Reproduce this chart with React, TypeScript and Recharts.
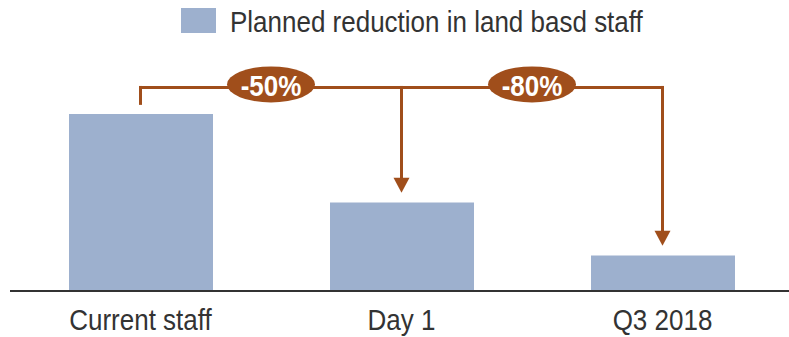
import React from "react";
import { BarChart, Bar, XAxis, YAxis, Legend, ReferenceLine, ReferenceDot } from "recharts";

const categories = ["Current staff", "Day 1", "Q3 2018"];
const staffLevels = [100, 50, 20];
const seriesName = "Planned reduction in land basd staff";

const BAR_COLOR = "#9DB0CE";
const ACCENT = "#A04E1B";
const TEXT = "#333333";
const FONT = "'Liberation Sans', Arial, sans-serif";
const STRETCH = 1.12; // slightly tall lettering

// bracket geometry in value units
const BRACKET_Y = 115;
const TICK_END = 106;
const ARROW_GAP = 5.5;

const data = categories.map((name, i) => ({ name, staff: staffLevels[i] }));

const pctChange = (from: number, to: number) =>
  `${Math.round(((to - from) / from) * 100)}%`;

const PillLabel = (text: string) => (props: any) => {
  const { viewBox } = props;
  const cx = viewBox.x + viewBox.width / 2;
  const cy = viewBox.y - 3;
  return (
    <g>
      <ellipse cx={cx} cy={cy} rx={44} ry={18} fill={ACCENT} />
      <g transform={`translate(${cx},${cy + 12}) scale(1,1.1)`}>
        <text x={0} y={0} textAnchor="middle" fill="#fff" fontFamily={FONT} fontWeight="bold" fontSize={26}>
          {text}
        </text>
      </g>
    </g>
  );
};

const CategoryTick = (props: any) => {
  const { x, y, payload } = props;
  return (
    <g transform={`translate(${x},${y + 18.5}) scale(1,${STRETCH})`}>
      <text x={0} y={0} textAnchor="middle" fill={TEXT} fontFamily={FONT} fontSize={26}>
        {payload.value}
      </text>
    </g>
  );
};

const ArrowHead = (props: any) => {
  const { cx, cy } = props;
  return <polygon points={`${cx - 8},${cy - 15} ${cx + 8},${cy - 15} ${cx},${cy}`} fill={ACCENT} />;
};

const LegendContent = () => (
  <svg width={500} height={40} style={{ display: "block" }}>
    <rect x={0} y={8} width={35} height={25} fill={BAR_COLOR} />
    <g transform={`translate(49,32) scale(1,${STRETCH})`}>
      <text x={0} y={0} fill={TEXT} fontFamily={FONT} fontSize={26}>
        {seriesName}
      </text>
    </g>
  </svg>
);

export default function App() {
  const base = staffLevels[0];
  return (
    <div style={{ position: "absolute", left: 0, top: 0, width: 789, height: 337, overflow: "hidden", background: "#fff" }}>
      <BarChart
        width={793}
        height={337}
        data={data}
        margin={{ top: 114, right: 0, left: 10, bottom: 0 }}
      >
        <YAxis hide domain={[0, 100]} />
        <XAxis
          dataKey="name"
          interval={0}
          height={46}
          axisLine={{ stroke: TEXT, strokeWidth: 2 }}
          tickLine={false}
          tickMargin={14}
          tick={<CategoryTick />}
        />
        <Legend
          layout="horizontal"
          verticalAlign="middle"
          align="center"
          wrapperStyle={{ left: 181, top: 0, width: 500 }}
          content={<LegendContent />}
        />
        <Bar dataKey="staff" name={seriesName} fill={BAR_COLOR} barSize={144} isAnimationActive={false} />

        {/* left end of the bracket */}
        <ReferenceLine
          ifOverflow="visible"
          segment={[{ x: categories[0], y: TICK_END }, { x: categories[0], y: BRACKET_Y }]}
          stroke={ACCENT}
          strokeWidth={3}
          strokeLinecap="square"
        />
        {/* horizontal runs with percentage pills */}
        {categories.slice(1).map((c, i) => (
          <ReferenceLine
            key={`h-${c}`}
            ifOverflow="visible"
            segment={[{ x: categories[i], y: BRACKET_Y }, { x: c, y: BRACKET_Y }]}
            stroke={ACCENT}
            strokeWidth={3}
            strokeLinecap="square"
            label={PillLabel(pctChange(base, staffLevels[i + 1]))}
          />
        ))}
        {/* drop arrows onto the reduced bars */}
        {categories.slice(1).map((c, i) => (
          <ReferenceLine
            key={`v-${c}`}
            ifOverflow="visible"
            segment={[{ x: c, y: BRACKET_Y }, { x: c, y: staffLevels[i + 1] + ARROW_GAP + 4 }]}
            stroke={ACCENT}
            strokeWidth={3}
            strokeLinecap="square"
          />
        ))}
        {categories.slice(1).map((c, i) => (
          <ReferenceDot
            key={`a-${c}`}
            ifOverflow="visible"
            x={c}
            y={staffLevels[i + 1] + ARROW_GAP}
            shape={ArrowHead}
          />
        ))}
      </BarChart>
    </div>
  );
}
